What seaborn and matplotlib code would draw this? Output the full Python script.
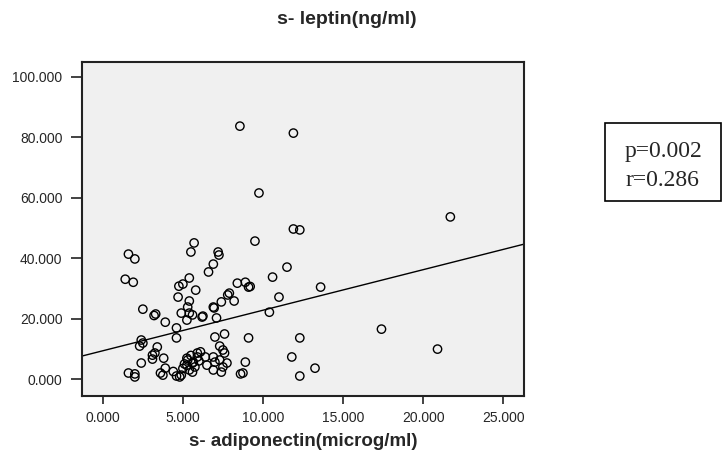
import numpy as np
import matplotlib
matplotlib.use("Agg")
import matplotlib.pyplot as plt
from matplotlib.patches import Rectangle
import seaborn as sns
import pandas as pd

# adiponectin (x) and leptin (y) values
adiponectin = [8.56, 11.9, 9.75, 11.9, 12.3, 9.5, 5.7, 5.5, 7.2, 7.25, 1.6, 2.0,
               1.4, 1.9, 6.9, 6.6, 5.4, 5.0, 4.75, 5.8, 11.5, 10.6, 8.4, 8.9,
               9.1, 9.2, 7.9, 7.8, 8.2, 7.4, 11.0, 10.4, 4.7, 5.4, 5.3, 4.9,
               5.4, 5.6, 2.5, 3.3, 3.2, 3.9, 5.25, 6.25, 6.2, 6.9, 6.95, 7.1,
               4.6, 4.6, 2.4, 2.5, 2.3, 3.4, 3.25, 3.1, 3.1, 3.8, 2.4, 1.6,
               2.0, 2.0, 3.6, 3.75, 3.9, 4.6, 4.8, 4.9, 5.25, 5.3, 5.6, 5.65,
               5.75, 5.9, 5.9, 5.4, 5.25, 5.6, 5.1, 5.5, 5.0, 6.0, 7.0, 7.6,
               7.3, 7.5, 7.6, 6.9, 7.0, 6.9, 7.4, 7.5, 7.75, 7.3, 6.4, 6.5,
               9.1, 8.9, 8.6, 8.75, 12.3, 11.8, 12.3, 13.25, 13.6, 17.4, 20.9,
               21.7, 4.4, 6.1]
leptin = [83.6, 81.3, 61.5, 49.6, 49.3, 45.6, 45.0, 42.0, 42.0, 41.0, 41.3, 39.7,
          33.0, 32.0, 38.0, 35.4, 33.4, 31.4, 30.7, 29.4, 37.0, 33.7, 31.7, 32.0,
          30.4, 30.6, 28.4, 27.8, 25.8, 25.5, 27.1, 22.1, 27.1, 25.8, 23.8, 21.8,
          21.8, 21.2, 23.1, 21.5, 21.0, 18.8, 19.5, 20.8, 20.5, 23.8, 23.5, 20.2,
          16.9, 13.6, 12.9, 11.9, 10.9, 10.6, 8.6, 7.9, 6.6, 6.9, 5.3, 2.0,
          1.7, 0.7, 2.0, 1.3, 3.6, 1.0, 0.7, 1.3, 6.9, 6.3, 5.3, 5.6,
          4.0, 7.3, 8.6, 3.0, 4.6, 2.3, 5.0, 7.8, 3.5, 6.0, 13.9, 14.9,
          10.9, 9.6, 8.6, 7.3, 5.6, 3.0, 2.3, 4.0, 5.3, 6.3, 7.3, 4.6,
          13.6, 5.6, 1.7, 2.0, 13.6, 7.3, 1.0, 3.6, 30.4, 16.5, 9.9,
          53.6, 2.5, 9.0]

# fit line as drawn in the figure
fit_intercept = 9.35
fit_slope = 1.34

x_ticks = [0, 5, 10, 15, 20, 25]
y_ticks = [0, 20, 40, 60, 80, 100]
stats_lines = ["p=0.002", "r=0.286"]

df = pd.DataFrame({"adiponectin": adiponectin, "leptin": leptin})

sns.set_style("ticks")
plt.rcParams["font.family"] = ["Liberation Sans", "DejaVu Sans"]

W, H = 725, 450
fig = plt.figure(figsize=(W / 100, H / 100), dpi=100)
ax = fig.add_axes([82 / W, 1 - 396 / H, (524 - 82) / W, (396 - 62) / H])
ax.set_facecolor("#f0f0f0")

xlim = (-1.3, 26.3)
ylim = (-5.6, 104.8)

sns.scatterplot(data=df, x="adiponectin", y="leptin", ax=ax, marker="o",
                s=36, facecolor="none", edgecolor="black", linewidth=1.0)

line_x = np.array(xlim)
sns.lineplot(x=line_x, y=fit_intercept + fit_slope * line_x, ax=ax,
             color="black", linewidth=1.0)

ax.set_xlim(*xlim)
ax.set_ylim(*ylim)
ax.set_xticks(x_ticks)
ax.set_xticklabels([f"{v}.000" for v in x_ticks])
ax.set_yticks(y_ticks)
ax.set_yticklabels([f"{v}.000" for v in y_ticks])
ax.tick_params(axis="y", direction="out", length=8, width=1.2, labelsize=10,
               color="#222222", pad=6)
ax.tick_params(axis="x", direction="out", length=6, width=1.2, labelsize=10,
               color="#222222", pad=5)
for sp in ax.spines.values():
    sp.set_visible(True)
    sp.set_linewidth(1.5)
    sp.set_color("#222222")

ax.set_xlabel("")
ax.set_ylabel("")
fig.text(303 / W, 1 - 441 / H, "s- adiponectin(microg/ml)", fontsize=13.5,
         fontweight="bold", ha="center", va="center")
fig.text(347 / W, 1 - 20 / H, "s- leptin(ng/ml)", fontsize=14,
         fontweight="bold", ha="center", va="center")

# stats box
fig.add_artist(Rectangle((605 / W, 1 - 201 / H), (721 - 605) / W, (201 - 123) / H,
                         transform=fig.transFigure, fill=True, facecolor="white",
                         edgecolor="black", linewidth=1.2))
for i, line in enumerate(stats_lines):
    fig.text(625 / W, 1 - (151 + 29 * i) / H, line, fontsize=17,
             family=["Liberation Serif"], ha="left", va="center")

fig.savefig("out.png", dpi=100)
